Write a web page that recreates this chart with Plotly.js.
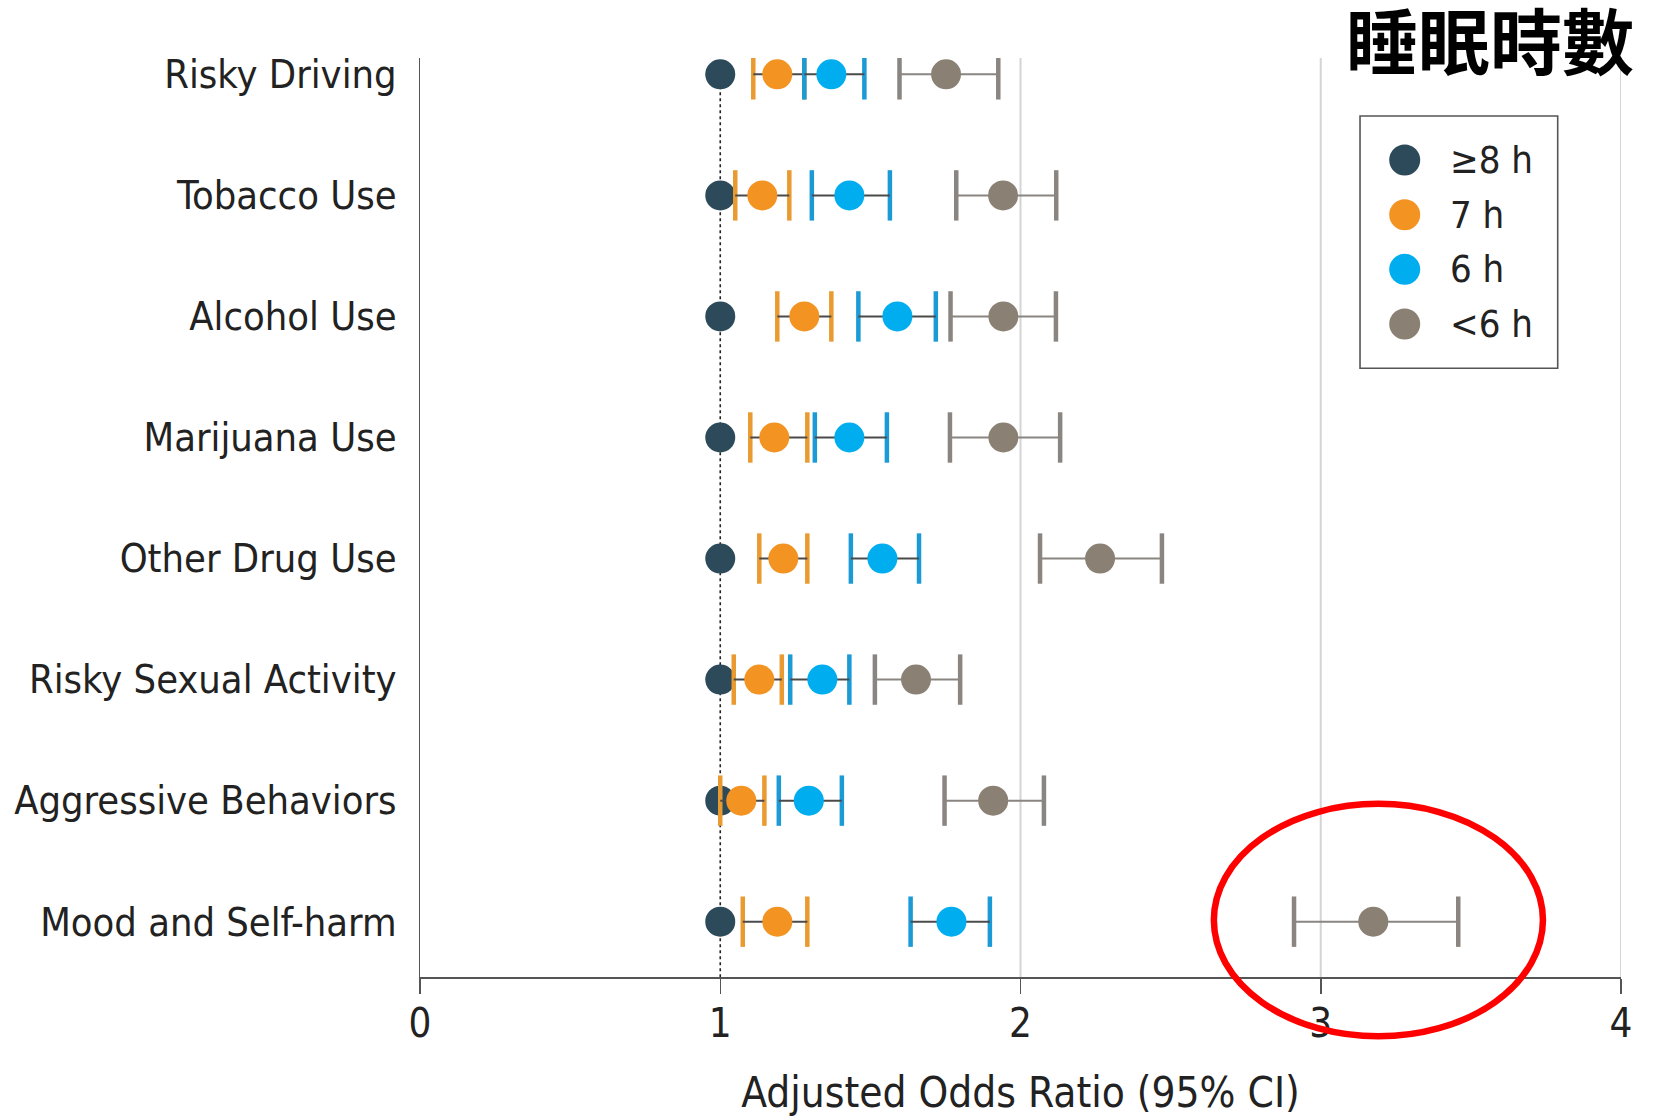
<!DOCTYPE html>
<html>
<head>
<meta charset="utf-8">
<script src="https://cdn.plot.ly/plotly-3.0.1.min.js"></script>
<style>html,body{margin:0;padding:0;background:#fff;}#chart{width:1665px;height:1117px;}</style>
</head>
<body>
<div id="chart"></div>
<script>
// ---- data ----
var categories = ["Risky Driving","Tobacco Use","Alcohol Use","Marijuana Use","Other Drug Use","Risky Sexual Activity","Aggressive Behaviors","Mood and Self-harm"];
var seriesNames = ["\u22658 h","7 h","6 h","<6 h"];

var ref8h = [1,1,1,1,1,1,1,1];

var or7h  = [1.19, 1.14, 1.28, 1.18, 1.21, 1.13, 1.07, 1.19];
var lo7h  = [1.11, 1.05, 1.19, 1.10, 1.13, 1.045, 1.00, 1.075];
var hi7h  = [1.28, 1.23, 1.37, 1.29, 1.29, 1.205, 1.147, 1.29];

var or6h  = [1.37, 1.43, 1.59, 1.43, 1.54, 1.34, 1.295, 1.77];
var lo6h  = [1.28, 1.305, 1.46, 1.315, 1.435, 1.233, 1.195, 1.634];
var hi6h  = [1.48, 1.565, 1.718, 1.555, 1.662, 1.43, 1.405, 1.898];

var orLt6 = [1.752, 1.942, 1.943, 1.943, 2.265, 1.652, 1.909, 3.175];
var loLt6 = [1.597, 1.786, 1.767, 1.765, 2.065, 1.515, 1.747, 2.911];
var hiLt6 = [1.926, 2.119, 2.118, 2.132, 2.471, 1.799, 2.078, 3.458];

var xTicks = [0,1,2,3,4];
var gridVals = [2,3,4];
var refValue = 1;

var titleText = "\u7761\u7720\u6642\u6578";
var xTitle = "Adjusted Odds Ratio (95% CI)";

// ---- styles ----
var dotColors = ["#2c4a5a","#f39322","#00adee","#8a8174"];
var capColors = ["#2c4a5a","#e99a30","#1b9ad5","#8a8580"];
var lineColors = ["#2c4a5a","#4a4a4a","#4a4a4a","#8a8580"];
var FONT = "DejaVu Sans Condensed, DejaVu Sans, sans-serif";

function diff(a,b){ return a.map(function(v,i){ return v-b[i]; }); }

var traces = [];
// reference dots
traces.push({
  type:"scatter", mode:"markers", x:ref8h, y:categories, name:seriesNames[0],
  marker:{size:30, color:dotColors[0]}, showlegend:false, hoverinfo:"x+y+name"
});

var groups = [[or7h,lo7h,hi7h],[or6h,lo6h,hi6h],[orLt6,loLt6,hiLt6]];
groups.forEach(function(g, k){
  var idx = k+1;
  // caps at CI bounds
  traces.push({
    type:"scatter", mode:"markers",
    x:g[1].concat(g[2]), y:categories.concat(categories),
    marker:{symbol:"line-ns", size:36, line:{width:4.5, color:capColors[idx]}},
    showlegend:false, hoverinfo:"skip"
  });
  // point estimate + CI line
  traces.push({
    type:"scatter", mode:"markers", x:g[0], y:categories, name:seriesNames[idx],
    marker:{size:30, color:dotColors[idx]},
    error_x:{type:"data", symmetric:false, array:diff(g[2],g[0]), arrayminus:diff(g[0],g[1]),
             color:lineColors[idx], thickness:2, width:0},
    showlegend:false
  });
});

// ---- shapes ----
var shapes = [];
gridVals.forEach(function(v){
  shapes.push({type:"line", layer:"below", xref:"x", yref:"paper", x0:v, x1:v, y0:0, y1:1,
               line:{color:"#d4d4d4", width:2}});
});
shapes.push({type:"line", layer:"below", xref:"x", yref:"y", x0:refValue, x1:refValue,
             y0:0, y1:7.457, line:{color:"#222", width:1.6, dash:"dot"}});

// custom legend box
var legX0 = 0.7827, legX1 = 0.9473, legY0 = 0.6624, legY1 = 0.9369;
shapes.push({type:"rect", xref:"paper", yref:"paper", x0:legX0, x1:legX1, y0:legY0, y1:legY1,
             fillcolor:"#ffffff", line:{color:"#555", width:1.6}, layer:"above"});
var annotations = [];
var legTop = 0.8890, legStep = 0.0595, legDotX = 0.8199, legTextX = 0.8560;
seriesNames.forEach(function(n, i){
  var yy = legTop - i*legStep;
  shapes.push({type:"circle", xref:"paper", yref:"paper", xsizemode:"pixel", ysizemode:"pixel",
               xanchor:legDotX, yanchor:yy, x0:-15.5, x1:15.5, y0:-15.5, y1:15.5,
               fillcolor:dotColors[i], line:{width:0}, layer:"above"});
  annotations.push({xref:"paper", yref:"paper", x:legTextX, y:yy, xanchor:"left", yanchor:"middle",
                    text:n, showarrow:false, font:{family:FONT, size:38, color:"#222"}});
});

// red highlight ellipse
shapes.push({type:"circle", xref:"paper", yref:"paper", x0:0.661, x1:0.935, y0:-0.0646, y1:0.1884,
             line:{color:"#ff0000", width:6.5}, fillcolor:"rgba(0,0,0,0)", layer:"above"});

// title
annotations.push({xref:"paper", yref:"paper", x:0.8909, y:1.0220, xanchor:"center", yanchor:"middle",
                  text:"<b>"+titleText+"</b>", showarrow:false,
                  font:{family:"Noto Sans CJK TC, Noto Sans CJK SC, sans-serif", size:72, color:"#000"}});

var layout = {
  width:1665, height:1117,
  margin:{l:420, r:44, t:58, b:140},
  paper_bgcolor:"#fff", plot_bgcolor:"#fff",
  showlegend:false,
  xaxis:{
    range:[0,4], tickvals:xTicks, ticktext:xTicks.map(String),
    showgrid:false, zeroline:false, showline:true, linecolor:"#555", linewidth:1.5,
    ticks:"outside", ticklen:15, tickwidth:1.5, tickcolor:"#555",
    ticklabelstandoff:-5,
    tickfont:{family:FONT, size:40, color:"#222"},
    title:{text:xTitle, font:{family:FONT, size:42, color:"#222"}, standoff:36}
  },
  yaxis:{
    type:"category", categoryorder:"array", categoryarray:categories,
    range:[7.457,-0.135],
    showgrid:false, zeroline:false, showline:true, linecolor:"#555", linewidth:1.5,
    ticks:"", ticklabelstandoff:14,
    tickfont:{family:FONT, size:39.5, color:"#222"}
  },
  shapes:shapes, annotations:annotations
};

Plotly.newPlot("chart", traces, layout, {displayModeBar:false, staticPlot:true});
</script>
</body>
</html>
